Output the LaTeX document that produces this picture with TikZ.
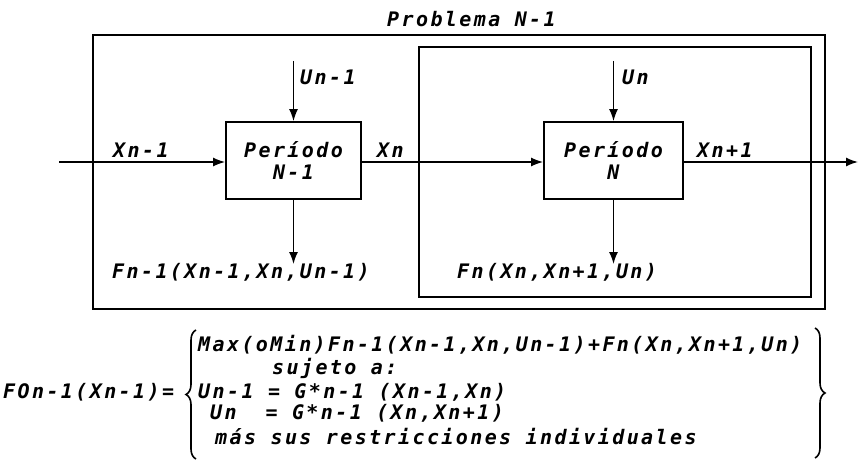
\documentclass[tikz,border=0pt]{standalone}
\usepackage{fontspec}
\newfontfamily\dmono[LetterSpace=12]{DejaVu Sans Mono}
\usetikzlibrary{arrows.meta,decorations.pathreplacing}
\begin{document}
\begin{tikzpicture}[x=1pt,y=-1pt,
  txt/.style={font={\dmono\bfseries\itshape\fontsize{20}{22}\selectfont}, inner sep=0pt},
  lbl/.style={txt, anchor=west},
  blk/.style={txt, draw, line width=1.8pt, minimum height=77pt, inner sep=0pt, align=center},
  frame/.style={line width=1.8pt},
  arr/.style={line width=1.5pt, -{Latex[length=12pt,width=9pt]}},
  brc/.style={line width=1.6pt, decorate, decoration={brace, amplitude=10pt}}]
\useasboundingbox (0,0) rectangle (859,460);
% frames
\draw[frame] (93,35) rectangle (825,309);
\draw[frame] (419,47) rectangle (811,297);
% blocks
\node[blk, minimum width=135pt] (b1) at (293.5,160.5) {Período\\N-1};
\node[blk, minimum width=139pt] (b2) at (613.5,160.5) {Período\\N};
% connectors
\coordinate (in) at (59,162);
\coordinate (out) at (858,162);
\coordinate (u1) at (293.5,61);
\coordinate (u2) at (613.5,61);
\coordinate (f1) at (293.5,264);
\coordinate (f2) at (613.5,264);
\draw[arr] (in) -- (in -| b1.west);
\draw[arr] (b1.east |- in) -- (b2.west |- in);
\draw[arr] (b2.east |- in) -- (out);
\draw[arr] (u1) -- (b1.north);
\draw[arr] (u2) -- (b2.north);
\draw[arr] (b1.south) -- (f1);
\draw[arr] (b2.south) -- (f2);
% labels
\node[lbl] (title) at (387,19) {Problema N-1};
\node[lbl] (lu1) at (300,77) {Un-1};
\node[lbl] (lu2) at (622,77) {Un};
\node[lbl] (lx1) at (113,150) {Xn-1};
\node[lbl] (lx2) at (377,150) {Xn};
\node[lbl] (lx3) at (697,150) {Xn+1};
\node[lbl] (lf1) at (112,272) {Fn-1(Xn-1,Xn,Un-1)};
\node[lbl] (lf2) at (457,272) {Fn(Xn,Xn+1,Un)};
% equation
\node[lbl] (fo) at (3,392) {FOn-1(Xn-1)=};
\node[lbl] (e1) at (198,345) {Max(oMin)Fn-1(Xn-1,Xn,Un-1)+Fn(Xn,Xn+1,Un)};
\node[lbl] (e2) at (272,368) {sujeto a:};
\node[lbl] (e3) at (198,392) {Un-1 = G*n-1 (Xn-1,Xn)};
\node[lbl] (e4) at (210,413) {Un{ }{ }= G*n-1 (Xn,Xn+1)};
\node[lbl] (e5) at (215,437) {más sus restricciones individuales};
\coordinate (lb1) at (196,459);
\coordinate (lb2) at (196,330);
\coordinate (rb1) at (815,328);
\coordinate (rb2) at (815,458);
\draw[brc] (lb1) -- (lb2);
\draw[brc] (rb1) -- (rb2);
\end{tikzpicture}
\end{document}
